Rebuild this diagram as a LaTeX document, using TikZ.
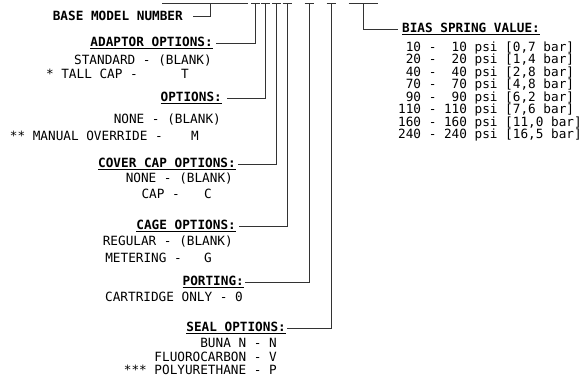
\documentclass[tikz,border=0pt]{standalone}
\usepackage{fontspec}
\newfontfamily\cadfont{DejaVu Sans Mono}
\newcommand{\headul}[1]{\setbox0\hbox{#1}\rlap{\rule[-2.4pt]{\wd0}{1.2pt}}\box0}

\begin{document}
\begin{tikzpicture}[x=1pt, y=-1pt,
    every node/.style={font=\cadfont\fontsize{12.7}{15}\selectfont, inner sep=0pt},
    optHead/.style={font=\cadfont\bfseries\fontsize{12.7}{15}\selectfont, anchor=base east},
    optItem/.style={anchor=base east},
    optCode/.style={anchor=base},
    wire/.style={line width=0.8pt, black!80}]
    \useasboundingbox (0,0) rectangle (587,383);

    % 1. top code bar: anchor points of every option
    \coordinate (bl) at (162,3);
    \coordinate (br) at (248,3);
    \coordinate (tBase) at (210,3);
    \coordinate (tAd) at (255.5,3);
    \coordinate (tOp) at (265.5,3);
    \coordinate (tCov) at (276.5,3);
    \coordinate (tCage) at (287,3);
    \coordinate (tPort) at (309,3);
    \coordinate (tSeal) at (331,3);
    \coordinate (tBias) at (363,3);

    \draw[wire] (bl) -- (br);
    \foreach \t in {tAd,tOp,tCov,tCage,tPort,tSeal}
        \draw[wire] ([xshift=-4.5pt]\t) -- ([xshift=4.5pt]\t);
    \draw[wire] ([xshift=-14.5pt]tBias) -- ([xshift=14.5pt]tBias);

    % 2. base model number
    \node[optHead] (base) at (183,20.6) {BASE MODEL NUMBER};
    \draw[wire] ([xshift=10pt]base.east) -| (tBase);

    % 3. adaptor options
    \node[optHead] (adaptor) at (213,46.6) {\headul{ADAPTOR OPTIONS:}};
    \node[optItem] (std) at (212,64.6) {STANDARD - (BLANK)};
    \node[optItem] (tall) at (138,78.6) {* TALL CAP -};
    \node[optCode] (tallT) at (185,78.6) {T};
    \draw[wire] ([xshift=3pt]adaptor.east) -| (tAd);

    % 4. options
    \node[optHead] (options) at (222,101.6) {\headul{OPTIONS:}};
    \node[optItem] (noneA) at (221,123.6) {NONE - (BLANK)};
    \node[optItem] (manual) at (163,140.6) {** MANUAL OVERRIDE -};
    \node[optCode] (manualM) at (195,140.6) {M};
    \draw[wire] ([xshift=5pt]options.east) -| (tOp);

    % 5. cover cap options
    \node[optHead] (cover) at (236,167.6) {\headul{COVER CAP OPTIONS:}};
    \node[optItem] (noneB) at (233,182.6) {NONE - (BLANK)};
    \node[optItem] (cap) at (180,198.6) {CAP -};
    \node[optCode] (capC) at (208,198.6) {C};
    \draw[wire] ([xshift=2pt]cover.east) -| (tCov);

    % 6. cage options
    \node[optHead] (cage) at (236,229.6) {\headul{CAGE OPTIONS:}};
    \node[optItem] (regular) at (233,245.6) {REGULAR - (BLANK)};
    \node[optItem] (meter) at (182,262.6) {METERING -};
    \node[optCode] (meterG) at (208,262.6) {G};
    \draw[wire] ([xshift=3pt]cage.east) -| (tCage);

    % 7. porting
    \node[optHead] (porting) at (244,285.6) {\headul{PORTING:}};
    \node[optItem] (cart) at (243,301.6) {CARTRIDGE ONLY - 0};
    \draw[wire] ([xshift=1pt]porting.east) -| (tPort);

    % 8. seal options
    \node[optHead] (seal) at (286,331.6) {\headul{SEAL OPTIONS:}};
    \node[optItem] (buna) at (277,347.6) {BUNA N - N};
    \node[optItem] (fluoro) at (277,361.6) {FLUOROCARBON - V};
    \node[optItem] (poly) at (277,374.6) {*** POLYURETHANE - P};
    \draw[wire] ([xshift=1pt]seal.east) -| (tSeal);

    % 9. bias spring value
    \node[optHead, anchor=base west] (bias) at (402,32.6) {\headul{BIAS SPRING VALUE:}};
    \draw[wire] (tBias) |- ([xshift=-4pt]bias.west);
    \node[anchor=base west] (b10) at (398,51.3) {~10 -~~10 psi [0,7 bar]};
    \node[anchor=base west] (b20) at (398,63.8) {~20 -~~20 psi [1,4 bar]};
    \node[anchor=base west] (b40) at (398,76.3) {~40 -~~40 psi [2,8 bar]};
    \node[anchor=base west] (b70) at (398,88.8) {~70 -~~70 psi [4,8 bar]};
    \node[anchor=base west] (b90) at (398,101.3) {~90 -~~90 psi [6,2 bar]};
    \node[anchor=base west] (b110) at (398,113.8) {110 - 110 psi [7,6 bar]};
    \node[anchor=base west] (b160) at (398,126.3) {160 - 160 psi [11,0 bar]};
    \node[anchor=base west] (b240) at (398,138.8) {240 - 240 psi [16,5 bar]};
\end{tikzpicture}
\end{document}
